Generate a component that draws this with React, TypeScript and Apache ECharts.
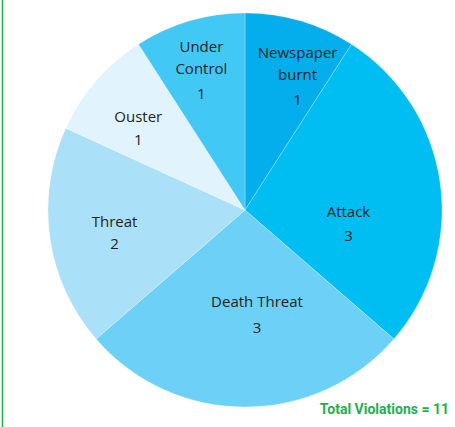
import React, { useEffect, useRef } from "react";
import * as echarts from "echarts";

const categories = ["Newspaper burnt", "Attack", "Death Threat", "Threat", "Ouster", "Under Control"];
const labelNames = ["Newspaper\nburnt", "Attack", "Death Threat", "Threat", "Ouster", "Under\nControl"];
const values = [1, 3, 3, 2, 1, 1];
const colors = ["#04AEEC", "#00BEF2", "#6DD0F6", "#ABE0F9", "#E1F3FC", "#42C8F4"];
const totalLabel = "Total Violations = 11";

const labelOffsets: [number, number][] = [
  [24, -36],
  [3, 28],
  [12, 4],
  [-30, 8],
  [-30, -16],
  [-15, -42],
];
const valueGaps = [28, 25, 30, 23, 23, 27];

export default function App() {
  const ref = useRef<HTMLDivElement>(null);
  useEffect(() => {
    document.body.style.margin = "0";
    const chart = echarts.init(ref.current!, null, { renderer: "svg" });
    const data = categories.map((c, i) => ({
      name: c,
      value: values[i],
      itemStyle: { color: colors[i] },
      label: {
        formatter: `{n|${labelNames[i].split("\n").join("}\n{n|")}}\n{v${i}|${values[i]}}`,
      },
    }));
    const rich: any = {
      n: { fontFamily: "Open Sans", fontSize: 15, color: "#231F20", lineHeight: 22 },
    };
    valueGaps.forEach((g, i) => {
      rich["v" + i] = { fontFamily: "Open Sans", fontSize: 15, color: "#231F20", lineHeight: g };
    });
    chart.setOption({
      animation: false,
      backgroundColor: "#ffffff",
      series: [
        {
          type: "pie",
          center: [245, 210],
          radius: 197,
          startAngle: 90,
          clockwise: true,
          data,
          itemStyle: { borderColor: "rgba(255,255,255,0.5)", borderWidth: 0.5 },
          label: {
            show: true,
            position: "inside",
            rich,
            align: "center",
          },
          labelLine: { show: false },
          labelLayout: (p: any) => ({ dx: labelOffsets[p.dataIndex][0], dy: labelOffsets[p.dataIndex][1] }),
          emphasis: { disabled: true },
        },
      ],
      graphic: [
        {
          type: "line",
          shape: { x1: 2.5, y1: 0, x2: 2.5, y2: 427 },
          style: { stroke: "#1DB14B", lineWidth: 1.5 },
        },
        {
          type: "text",
          right: 6,
          top: 402,
          style: {
            text: totalLabel,
            fontFamily: "Liberation Sans Narrow, Roboto, sans-serif",
            fontWeight: "bold",
            fontSize: 14,
            fill: "#1DB14B",
          },
        },
      ],
    });
    return () => chart.dispose();
  }, []);
  return <div ref={ref} style={{ width: 455, height: 427 }} />;
}
